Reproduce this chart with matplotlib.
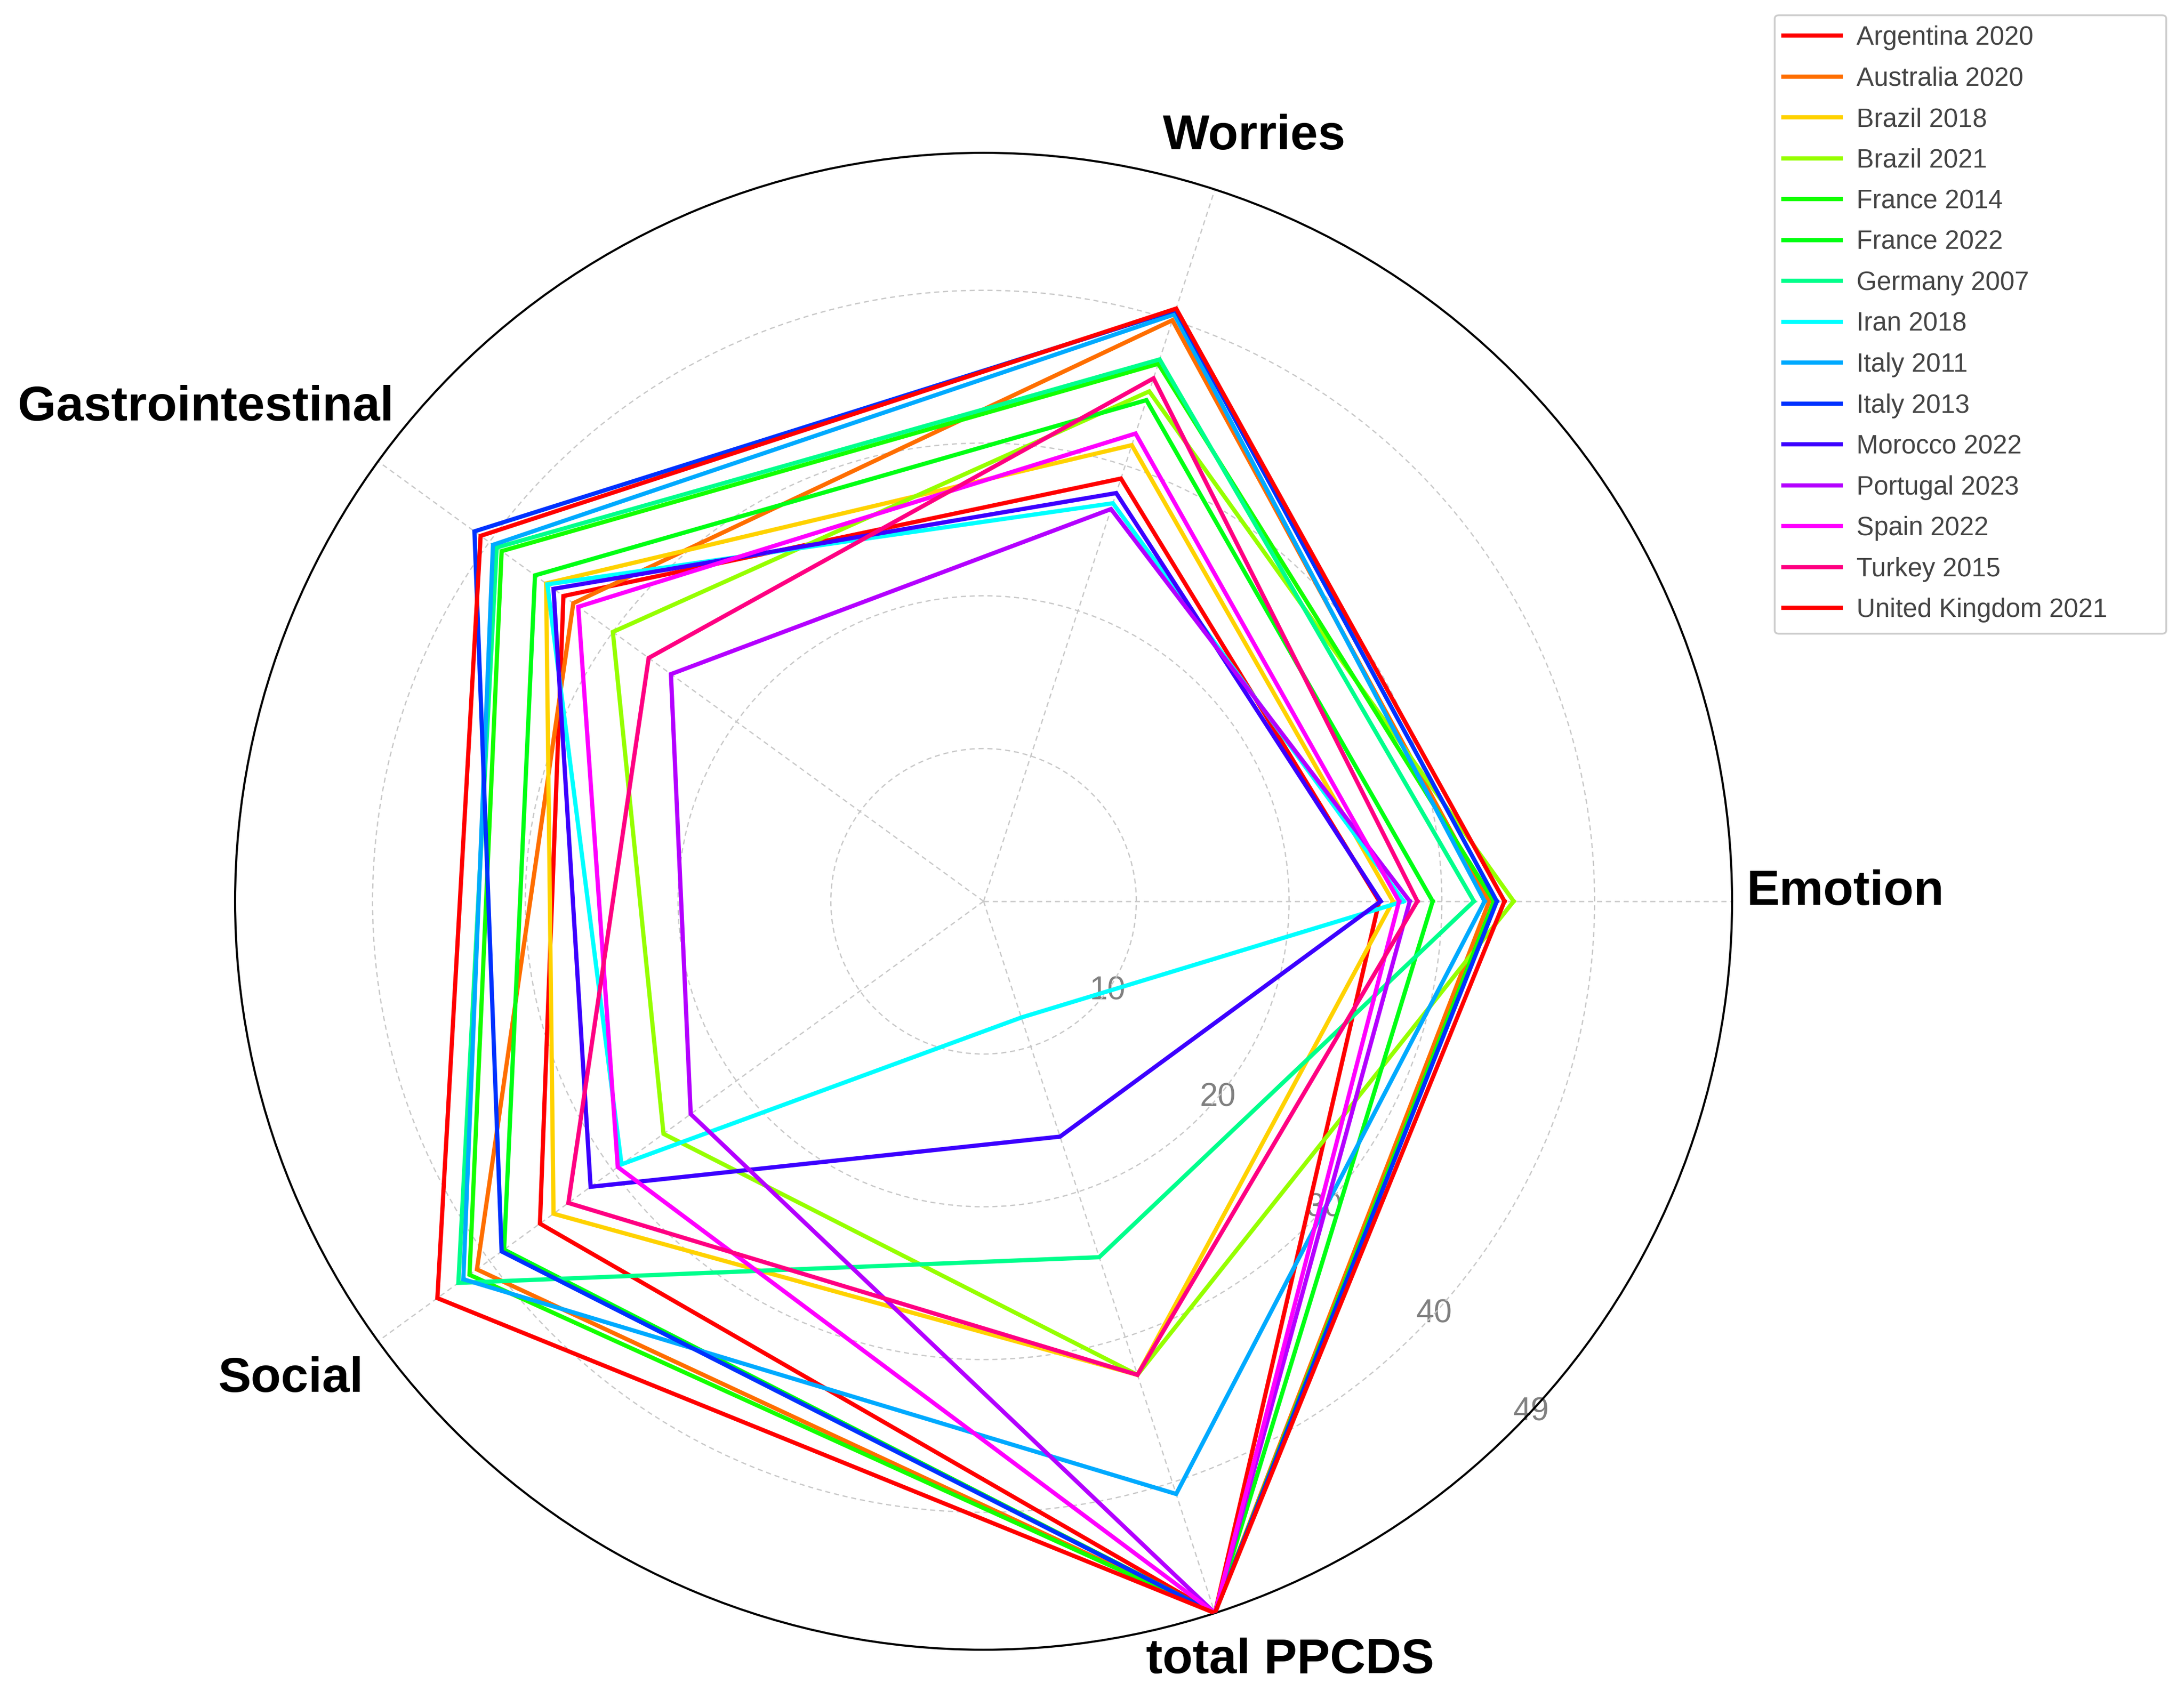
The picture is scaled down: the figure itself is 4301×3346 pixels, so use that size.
import numpy as np
import matplotlib.pyplot as plt
from matplotlib.lines import Line2D
from matplotlib.patches import FancyBboxPatch

plt.rcParams['font.family'] = ['Liberation Sans', 'DejaVu Sans']

# axes of the radar, counter-clockwise from the right
categories = ['Emotion', 'Worries', 'Gastrointestinal', 'Social', 'total PPCDS']

countries = ['Argentina 2020', 'Australia 2020', 'Brazil 2018', 'Brazil 2021', 'France 2014',
             'France 2022', 'Germany 2007', 'Iran 2018', 'Italy 2011', 'Italy 2013',
             'Morocco 2022', 'Portugal 2023', 'Spain 2022', 'Turkey 2015', 'United Kingdom 2021']

# scores per dimension, same order as countries
emotion = [25.9, 33.1, 26.8, 34.7, 33.4, 29.4, 32.1, 27.5, 32.8, 33.6, 26.0, 27.9, 27.2, 28.4, 34.1]
worries = [29.1, 40.0, 31.4, 35.1, 37.0, 34.5, 37.3, 27.4, 40.4, 40.7, 28.1, 27.0, 32.2, 36.0, 40.8]
gastro = [34.0, 33.2, 35.4, 30.0, 39.0, 36.3, 39.4, 35.3, 39.7, 41.2, 34.8, 25.3, 32.8, 27.1, 40.7]
social = [35.9, 41.0, 34.8, 25.9, 41.6, 38.8, 42.5, 29.3, 42.1, 39.0, 31.8, 23.7, 29.6, 33.6, 44.2]
total = [49.0, 49.0, 32.6, 32.6, 49.0, 49.0, 24.5, 8.0, 40.8, 49.0, 16.2, 49.0, 49.0, 32.6, 49.0]

r_ticks = [10, 20, 30, 40, 49]
r_max = 49

# rainbow palette, one colour per country
colors = ['#ff0000', '#ff6e00', '#ffd200', '#96ff00', '#14ff00', '#00ff14', '#00ff8c', '#00ffff',
          '#00aaff', '#0032ff', '#3c00ff', '#b400ff', '#ff00ff', '#ff0082', '#ff0000']

values = np.array([emotion, worries, gastro, social, total]).T
angles = np.arange(len(categories)) * 2 * np.pi / len(categories)

W, H = 4301, 3346
fig = plt.figure(figsize=(W / 100, H / 100), dpi=100)
ax = fig.add_axes([0.10765, 0.02899, 0.68542, 0.88106], projection='polar')

ax.set_ylim(0, r_max)
ax.set_yticks(r_ticks[:-1])
ax.set_yticklabels([])
ax.set_xticks(angles)
ax.set_xticklabels([])
ax.tick_params(axis='both', length=0)
ax.grid(True, color='#c8c8c8', linestyle=(0, (4, 3)), linewidth=1.8)
ax.spines['polar'].set_color('black')
ax.spines['polar'].set_linewidth(3)

handles = []
for name, vals, c in zip(countries, values, colors):
    th = np.append(angles, angles[0])
    rr = np.append(vals, vals[0])
    ax.plot(th, rr, color=c, linewidth=6, solid_joinstyle='miter', zorder=3)
    handles.append(Line2D([0], [0], color=c, linewidth=6))

# radial tick labels, along the lower right diagonal
label_angles = [-36, -40, -42, -42.5, -43]
for a, t in zip(label_angles, r_ticks):
    ax.text(np.deg2rad(a), t, str(t), ha='center', va='center', fontsize=46,
            color='#808080', zorder=1)

# category labels outside the circle
cat_pos = [(0.6, 56.4), (70.5, 53.1), (147.6, 60.3), (214.6, 55.1), (292.0, 53.6)]
for (a, r), name in zip(cat_pos, categories):
    ax.text(np.deg2rad(a), r, name, ha='center', va='center', fontsize=70,
            fontweight='bold', color='black', zorder=4)

# legend without its own frame, a wider box is drawn behind it
leg = fig.legend(handles, countries, loc='upper left',
                 bbox_to_anchor=(3512 / W, 1 - 50 / H), borderaxespad=0, borderpad=0,
                 fontsize=37, handlelength=2.2, handletextpad=0.6,
                 labelspacing=0.613, frameon=False)
for txt in leg.get_texts():
    txt.set_color('#444444')

box = FancyBboxPatch((3495 / W, 1 - 1248 / H), (4266 - 3495) / W, (1248 - 30) / H,
                     boxstyle='round,pad=0,rounding_size=0.002', transform=fig.transFigure,
                     facecolor='white', edgecolor='#cccccc', linewidth=2.5, zorder=0)
fig.add_artist(box)
leg.set_zorder(5)

fig.savefig('out.png', dpi=100, facecolor='white')
